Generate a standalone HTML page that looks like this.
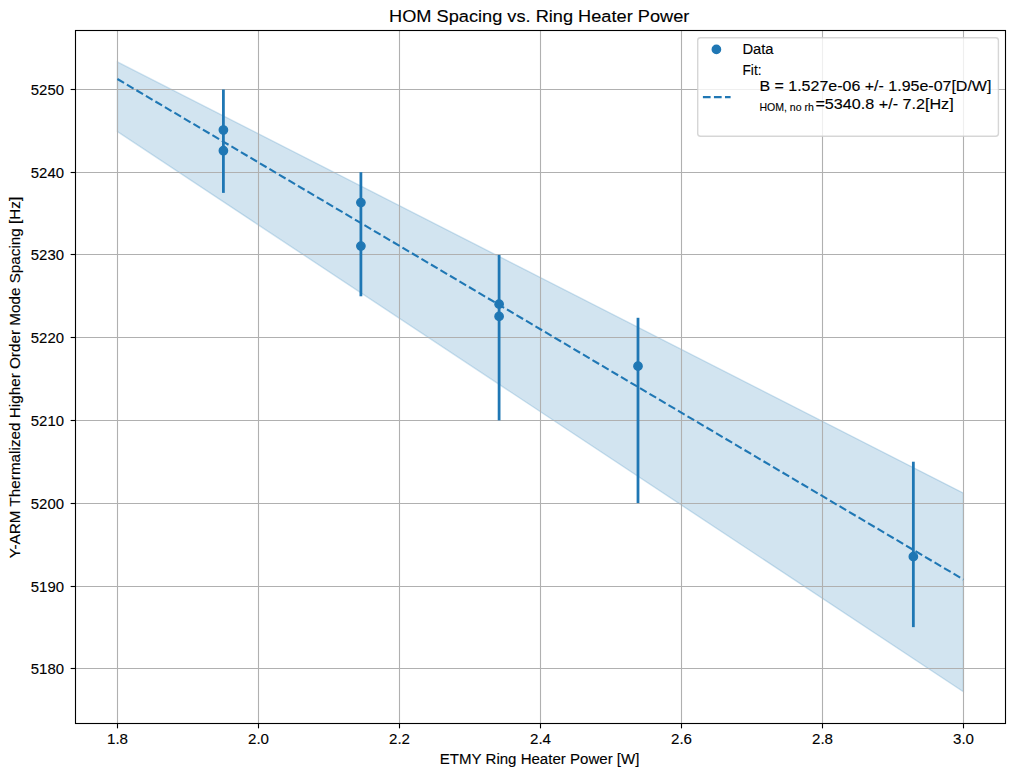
<!DOCTYPE html><html><head><meta charset="utf-8"><style>html,body{margin:0;padding:0;background:#fff;width:1014px;height:776px;overflow:hidden}svg{display:block}text{font-family:"Liberation Sans",sans-serif;fill:#000;stroke:#000;stroke-width:0.12px}</style></head><body>
<svg width="1014" height="776" viewBox="0 0 1014 776">
<rect x="0" y="0" width="1014" height="776" fill="#fff"/>
<polygon points="117.4,61.95 963.4,493.1 963.4,691.8 117.4,131.6" fill="#1f77b4" fill-opacity="0.2" stroke="#1f77b4" stroke-opacity="0.2" stroke-width="1.39"/>
<line x1="117.50" y1="30.5" x2="117.50" y2="723.5" stroke="#b0b0b0" stroke-width="1.11"/>
<line x1="258.50" y1="30.5" x2="258.50" y2="723.5" stroke="#b0b0b0" stroke-width="1.11"/>
<line x1="399.50" y1="30.5" x2="399.50" y2="723.5" stroke="#b0b0b0" stroke-width="1.11"/>
<line x1="540.50" y1="30.5" x2="540.50" y2="723.5" stroke="#b0b0b0" stroke-width="1.11"/>
<line x1="681.50" y1="30.5" x2="681.50" y2="723.5" stroke="#b0b0b0" stroke-width="1.11"/>
<line x1="822.50" y1="30.5" x2="822.50" y2="723.5" stroke="#b0b0b0" stroke-width="1.11"/>
<line x1="963.50" y1="30.5" x2="963.50" y2="723.5" stroke="#b0b0b0" stroke-width="1.11"/>
<line x1="75.5" y1="668.50" x2="1005.5" y2="668.50" stroke="#b0b0b0" stroke-width="1.11"/>
<line x1="75.5" y1="586.50" x2="1005.5" y2="586.50" stroke="#b0b0b0" stroke-width="1.11"/>
<line x1="75.5" y1="503.50" x2="1005.5" y2="503.50" stroke="#b0b0b0" stroke-width="1.11"/>
<line x1="75.5" y1="420.50" x2="1005.5" y2="420.50" stroke="#b0b0b0" stroke-width="1.11"/>
<line x1="75.5" y1="337.50" x2="1005.5" y2="337.50" stroke="#b0b0b0" stroke-width="1.11"/>
<line x1="75.5" y1="254.50" x2="1005.5" y2="254.50" stroke="#b0b0b0" stroke-width="1.11"/>
<line x1="75.5" y1="172.50" x2="1005.5" y2="172.50" stroke="#b0b0b0" stroke-width="1.11"/>
<line x1="75.5" y1="89.50" x2="1005.5" y2="89.50" stroke="#b0b0b0" stroke-width="1.11"/>
<line x1="223.4" y1="89.50" x2="223.4" y2="192.89" stroke="#1f77b4" stroke-width="2.78"/>
<line x1="360.9" y1="172.21" x2="360.9" y2="296.29" stroke="#1f77b4" stroke-width="2.78"/>
<line x1="499.1" y1="254.93" x2="499.1" y2="420.36" stroke="#1f77b4" stroke-width="2.78"/>
<line x1="638.0" y1="317.79" x2="638.0" y2="503.07" stroke="#1f77b4" stroke-width="2.78"/>
<line x1="913.35" y1="461.71" x2="913.35" y2="627.14" stroke="#1f77b4" stroke-width="2.78"/>
<line x1="117.4" y1="79.0" x2="963.4" y2="579.5" stroke="#1f77b4" stroke-width="2.08" stroke-dasharray="7.71 3.33"/>
<circle cx="223.4" cy="130.03" r="4.17" fill="#1f77b4" stroke="#1f77b4" stroke-width="1.39"/>
<circle cx="223.4" cy="150.71" r="4.17" fill="#1f77b4" stroke="#1f77b4" stroke-width="1.39"/>
<circle cx="360.9" cy="202.57" r="4.17" fill="#1f77b4" stroke="#1f77b4" stroke-width="1.39"/>
<circle cx="360.9" cy="246.08" r="4.17" fill="#1f77b4" stroke="#1f77b4" stroke-width="1.39"/>
<circle cx="499.1" cy="304.14" r="4.17" fill="#1f77b4" stroke="#1f77b4" stroke-width="1.39"/>
<circle cx="499.1" cy="316.39" r="4.17" fill="#1f77b4" stroke="#1f77b4" stroke-width="1.39"/>
<circle cx="638.0" cy="366.18" r="4.17" fill="#1f77b4" stroke="#1f77b4" stroke-width="1.39"/>
<circle cx="913.35" cy="556.67" r="4.17" fill="#1f77b4" stroke="#1f77b4" stroke-width="1.39"/>
<rect x="75.5" y="30.5" width="930.0" height="693.0" fill="none" stroke="#000" stroke-width="1.11"/>
<line x1="117.50" y1="723.5" x2="117.50" y2="728.36" stroke="#000" stroke-width="1.11"/>
<line x1="258.50" y1="723.5" x2="258.50" y2="728.36" stroke="#000" stroke-width="1.11"/>
<line x1="399.50" y1="723.5" x2="399.50" y2="728.36" stroke="#000" stroke-width="1.11"/>
<line x1="540.50" y1="723.5" x2="540.50" y2="728.36" stroke="#000" stroke-width="1.11"/>
<line x1="681.50" y1="723.5" x2="681.50" y2="728.36" stroke="#000" stroke-width="1.11"/>
<line x1="822.50" y1="723.5" x2="822.50" y2="728.36" stroke="#000" stroke-width="1.11"/>
<line x1="963.50" y1="723.5" x2="963.50" y2="728.36" stroke="#000" stroke-width="1.11"/>
<line x1="70.64" y1="668.50" x2="75.5" y2="668.50" stroke="#000" stroke-width="1.11"/>
<line x1="70.64" y1="586.50" x2="75.5" y2="586.50" stroke="#000" stroke-width="1.11"/>
<line x1="70.64" y1="503.50" x2="75.5" y2="503.50" stroke="#000" stroke-width="1.11"/>
<line x1="70.64" y1="420.50" x2="75.5" y2="420.50" stroke="#000" stroke-width="1.11"/>
<line x1="70.64" y1="337.50" x2="75.5" y2="337.50" stroke="#000" stroke-width="1.11"/>
<line x1="70.64" y1="254.50" x2="75.5" y2="254.50" stroke="#000" stroke-width="1.11"/>
<line x1="70.64" y1="172.50" x2="75.5" y2="172.50" stroke="#000" stroke-width="1.11"/>
<line x1="70.64" y1="89.50" x2="75.5" y2="89.50" stroke="#000" stroke-width="1.11"/>
<text x="117.50" y="744.0" font-size="14.7" text-anchor="middle" textLength="21" lengthAdjust="spacingAndGlyphs">1.8</text>
<text x="258.50" y="744.0" font-size="14.7" text-anchor="middle" textLength="21" lengthAdjust="spacingAndGlyphs">2.0</text>
<text x="399.50" y="744.0" font-size="14.7" text-anchor="middle" textLength="21" lengthAdjust="spacingAndGlyphs">2.2</text>
<text x="540.50" y="744.0" font-size="14.7" text-anchor="middle" textLength="21" lengthAdjust="spacingAndGlyphs">2.4</text>
<text x="681.50" y="744.0" font-size="14.7" text-anchor="middle" textLength="21" lengthAdjust="spacingAndGlyphs">2.6</text>
<text x="822.50" y="744.0" font-size="14.7" text-anchor="middle" textLength="21" lengthAdjust="spacingAndGlyphs">2.8</text>
<text x="963.50" y="744.0" font-size="14.7" text-anchor="middle" textLength="21" lengthAdjust="spacingAndGlyphs">3.0</text>
<text x="64.0" y="673.60" font-size="14.7" text-anchor="end" textLength="33.2" lengthAdjust="spacingAndGlyphs">5180</text>
<text x="64.0" y="591.60" font-size="14.7" text-anchor="end" textLength="33.2" lengthAdjust="spacingAndGlyphs">5190</text>
<text x="64.0" y="508.60" font-size="14.7" text-anchor="end" textLength="33.2" lengthAdjust="spacingAndGlyphs">5200</text>
<text x="64.0" y="425.60" font-size="14.7" text-anchor="end" textLength="33.2" lengthAdjust="spacingAndGlyphs">5210</text>
<text x="64.0" y="342.60" font-size="14.7" text-anchor="end" textLength="33.2" lengthAdjust="spacingAndGlyphs">5220</text>
<text x="64.0" y="259.60" font-size="14.7" text-anchor="end" textLength="33.2" lengthAdjust="spacingAndGlyphs">5230</text>
<text x="64.0" y="177.60" font-size="14.7" text-anchor="end" textLength="33.2" lengthAdjust="spacingAndGlyphs">5240</text>
<text x="64.0" y="94.60" font-size="14.7" text-anchor="end" textLength="33.2" lengthAdjust="spacingAndGlyphs">5250</text>
<text x="539.6" y="763.9" font-size="14.7" text-anchor="middle" textLength="199.6" lengthAdjust="spacingAndGlyphs">ETMY Ring Heater Power [W]</text>
<text transform="translate(19.9,377.5) rotate(-90)" x="0" y="0" font-size="14.7" text-anchor="middle" textLength="361.5" lengthAdjust="spacingAndGlyphs">Y-ARM Thermalized Higher Order Mode Spacing [Hz]</text>
<text x="539.2" y="21.7" font-size="17.4" text-anchor="middle" textLength="300.3" lengthAdjust="spacingAndGlyphs">HOM Spacing vs. Ring Heater Power</text>
<rect x="697.7" y="37.7" width="300.7" height="98.6" rx="2.78" ry="2.78" fill="#fff" fill-opacity="0.8" stroke="#cccccc" stroke-opacity="0.8" stroke-width="1.39"/>
<circle cx="716.4" cy="49.4" r="4.17" fill="#1f77b4" stroke="#1f77b4" stroke-width="1.39"/>
<line x1="702.9" y1="97.1" x2="730.6" y2="97.1" stroke="#1f77b4" stroke-width="2.08" stroke-dasharray="7.71 3.33"/>
<text x="742.4" y="54.0" font-size="14.7" textLength="31.2" lengthAdjust="spacingAndGlyphs">Data</text>
<text x="742.5" y="74.9" font-size="14.7" textLength="19.0" lengthAdjust="spacingAndGlyphs">Fit:</text>
<text x="759.4" y="91.0" font-size="14.7" textLength="232.0" lengthAdjust="spacingAndGlyphs">B = 1.527e-06 +/- 1.95e-07[D/W]</text>
<text x="759.4" y="110.8" font-size="10.3" textLength="54.5" lengthAdjust="spacingAndGlyphs">HOM, no rh</text>
<text x="815.4" y="108.9" font-size="14.7" textLength="138.3" lengthAdjust="spacingAndGlyphs">=5340.8 +/- 7.2[Hz]</text>
</svg></body></html>
